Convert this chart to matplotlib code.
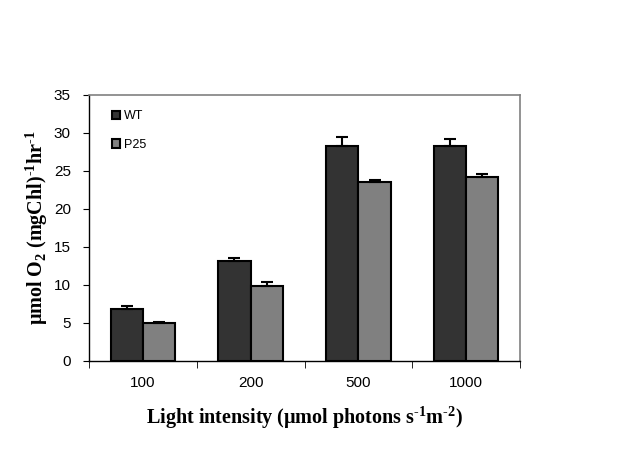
import matplotlib.pyplot as plt
import numpy as np

plt.rcParams['font.family'] = ['Liberation Sans', 'DejaVu Sans']

intensity = ['100', '200', '500', '1000']
wt = [6.9, 13.1, 28.3, 28.3]
wt_err = [0.4, 0.4, 1.2, 0.95]
p25 = [5.0, 9.9, 23.5, 24.25]
p25_err = [0.1, 0.45, 0.3, 0.4]

fig = plt.figure(figsize=(6.28, 4.59), dpi=100)
ax = fig.add_axes([89/628, 1-361/459, 431/628, 266/459])

x = np.arange(len(intensity))
w = 0.3
ekw = dict(ecolor='black', elinewidth=1.5, capsize=4, capthick=1.5)
ax.bar(x - w/2, wt, w, color='#333333', edgecolor='black', linewidth=1.5, label='WT',
       yerr=[np.zeros(4), wt_err], error_kw=ekw)
ax.bar(x + w/2, p25, w, color='#808080', edgecolor='black', linewidth=1.5, label='P25',
       yerr=[np.zeros(4), p25_err], error_kw=ekw)

ax.set_xlim(-0.5, 3.5)
ax.set_ylim(0, 35)
ax.set_yticks(range(0, 36, 5))
ax.set_xticks(x)
ax.set_xticklabels(intensity, fontsize=11)
ax.set_xticks(np.arange(-0.5, 4, 1), minor=True)
ax.tick_params(axis='x', which='major', length=0, pad=11)
ax.tick_params(axis='x', which='minor', length=5, direction='out', color='black')
ax.tick_params(axis='y', labelsize=11, length=4, direction='out', pad=9)

ax.spines['top'].set_color('#808080')
ax.spines['right'].set_color('#808080')
ax.spines['top'].set_linewidth(1.2)
ax.spines['right'].set_linewidth(1.2)
ax.spines['left'].set_linewidth(1.0)
ax.spines['bottom'].set_linewidth(1.0)

# superscripts with a short hyphen, subscript via mathregular
serif = dict(family=['Liberation Serif', 'DejaVu Serif'], fontweight='bold', fontsize=14.5)
ax.set_xlabel('Light intensity (\u03bcmol photons s$^{\\mathregular{\u20101}}$m$^{\\mathregular{\u20102}}$)',
              labelpad=10, **serif)
ax.set_ylabel('\u03bcmol O$_{\\mathregular{2}}$ (mgChl)$^{\\mathregular{\u20101}}$hr$^{\\mathregular{\u20101}}$',
              labelpad=3, **serif)

ax.legend(loc='upper left', bbox_to_anchor=(0.041, 0.961), frameon=False, fontsize=9,
          handlelength=0.7, handleheight=0.7, handletextpad=0.3, labelspacing=1.3, borderaxespad=0)

fig.savefig('out.png', dpi=100)
